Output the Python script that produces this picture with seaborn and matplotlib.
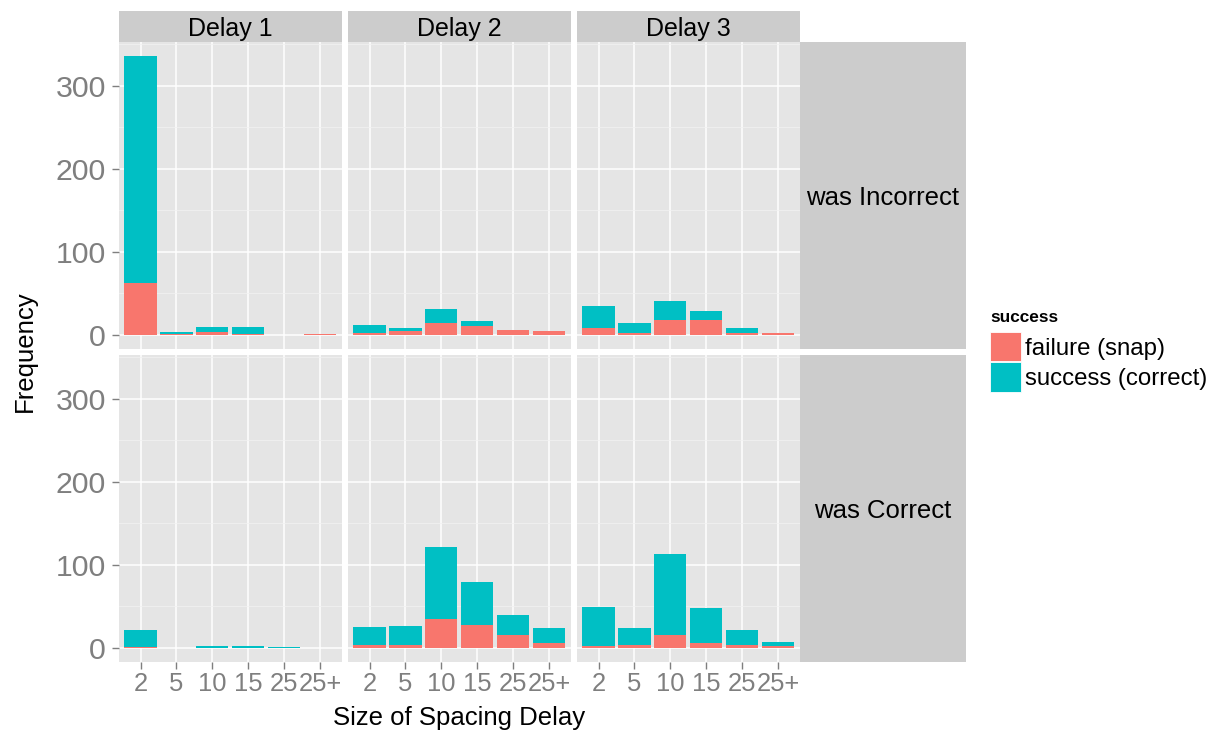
import numpy as np
import pandas as pd
import seaborn as sns
import matplotlib
matplotlib.use("Agg")
import matplotlib.pyplot as plt
from matplotlib.patches import Patch
from matplotlib.ticker import FixedLocator, MultipleLocator

# ---- data -------------------------------------------------------------
spacing_sizes = ["2", "5", "10", "15", "25", "25+"]
delay_levels = ["Delay 1", "Delay 2", "Delay 3"]
prior_levels = ["was Incorrect", "was Correct"]
outcome_levels = ["failure (snap)", "success (correct)"]

# counts per spacing size, one list per (previous answer, delay) panel
failure_incorrect_d1 = [62, 1, 3, 1, 0, 1]
success_incorrect_d1 = [274, 2, 6, 8, 0, 0]
failure_incorrect_d2 = [2, 4, 14, 10, 6, 4]
success_incorrect_d2 = [9, 4, 17, 6, 0, 0]
failure_incorrect_d3 = [8, 2, 18, 17, 2, 2]
success_incorrect_d3 = [27, 12, 23, 12, 6, 0]

failure_correct_d1 = [1, 0, 0, 0, 0, 0]
success_correct_d1 = [20, 0, 2, 2, 1, 0]
failure_correct_d2 = [3, 3, 34, 27, 15, 6]
success_correct_d2 = [22, 23, 87, 52, 24, 18]
failure_correct_d3 = [2, 3, 15, 6, 3, 2]
success_correct_d3 = [47, 21, 98, 42, 18, 5]

y_ticks = [0, 100, 200, 300]

panel_counts = {
    ("was Incorrect", "Delay 1"): (failure_incorrect_d1, success_incorrect_d1),
    ("was Incorrect", "Delay 2"): (failure_incorrect_d2, success_incorrect_d2),
    ("was Incorrect", "Delay 3"): (failure_incorrect_d3, success_incorrect_d3),
    ("was Correct", "Delay 1"): (failure_correct_d1, success_correct_d1),
    ("was Correct", "Delay 2"): (failure_correct_d2, success_correct_d2),
    ("was Correct", "Delay 3"): (failure_correct_d3, success_correct_d3),
}

rows = []
for (prior, delay), (fail, succ) in panel_counts.items():
    for size, f, s in zip(spacing_sizes, fail, succ):
        rows.append(dict(prior=prior, delay=delay, size=size,
                         failure=f, success=s, total=f + s))
df = pd.DataFrame(rows)

# ---- style ------------------------------------------------------------
plt.rcParams["font.family"] = ["Liberation Sans", "DejaVu Sans"]

RED = "#F8766D"
CYAN = "#00BFC4"
PANEL_BG = "#E5E5E5"
STRIP_BG = "#CCCCCC"
AXIS_GREY = "#7F7F7F"

W, H = 1211, 730
fig = plt.figure(figsize=(W / 100, H / 100), dpi=100)


def rect(left, top, width, height):
    return [left / W, 1 - (top + height) / H, width / W, height / H]


col_left = [119, 348, 577]
panel_w = 222.5
row_top = [42, 355]
panel_h = 306.5

ymin, ymax = -16.8, 352.8

for r, prior in enumerate(prior_levels):
    for c, delay in enumerate(delay_levels):
        ax = fig.add_axes(rect(col_left[c], row_top[r], panel_w, panel_h))
        sub = df[(df["prior"] == prior) & (df["delay"] == delay)]
        # stacked bars: full height in success colour, failure part over it
        sns.barplot(data=sub, x="size", y="total", order=spacing_sizes,
                    color=CYAN, saturation=1, width=0.9, errorbar=None,
                    linewidth=0, ax=ax)
        sns.barplot(data=sub, x="size", y="failure", order=spacing_sizes,
                    color=RED, saturation=1, width=0.9, errorbar=None,
                    linewidth=0, ax=ax)
        ax.set_xlabel("")
        ax.set_ylabel("")
        ax.set_facecolor(PANEL_BG)
        for sp in ax.spines.values():
            sp.set_visible(False)
        ax.set_xlim(-0.6, len(spacing_sizes) - 0.4)
        ax.set_ylim(ymin, ymax)
        ax.yaxis.set_major_locator(FixedLocator(y_ticks))
        ax.yaxis.set_minor_locator(MultipleLocator(50))
        ax.set_axisbelow(True)
        ax.grid(True, which="major", axis="both", color="white", linewidth=1.1)
        ax.grid(True, which="minor", axis="y", color="#F2F2F2", linewidth=0.55)
        ax.tick_params(axis="both", which="major", length=4.8, width=1.0,
                       color=AXIS_GREY, labelcolor=AXIS_GREY)
        ax.tick_params(axis="y", which="minor", length=0)
        ax.tick_params(axis="y", labelsize=21.8, pad=4.5)
        ax.tick_params(axis="x", labelsize=18.4, pad=2.5)
        if c > 0:
            ax.tick_params(axis="y", left=False, labelleft=False)
        if r == 0:
            ax.tick_params(axis="x", bottom=False, labelbottom=False)

# column strips
for c, delay in enumerate(delay_levels):
    sax = fig.add_axes(rect(col_left[c], 11, panel_w, 30.5))
    sax.set_facecolor(STRIP_BG)
    sax.set_xticks([])
    sax.set_yticks([])
    for sp in sax.spines.values():
        sp.set_visible(False)
    sax.text(0.5, 0.5, delay, ha="center", va="center_baseline", fontsize=18,
             color="black", transform=sax.transAxes)

# row strips
for r, prior in enumerate(prior_levels):
    sax = fig.add_axes(rect(800, row_top[r], 166, panel_h))
    sax.set_facecolor(STRIP_BG)
    sax.set_xticks([])
    sax.set_yticks([])
    for sp in sax.spines.values():
        sp.set_visible(False)
    sax.text(0.5, 0.5, prior, ha="center", va="center_baseline",
             fontsize=18.5, color="black", transform=sax.transAxes)

# axis titles
fig.text(459 / W, 1 - 718 / H, "Size of Spacing Delay", ha="center",
         va="center", fontsize=18.5)
fig.text(25 / W, 1 - 351 / H, "Frequency", ha="center", va="center",
         rotation=90, fontsize=18.5)

# legend
fig.text(990 / W, 1 - 318 / H, "success", ha="left", va="center",
         fontsize=12.4, fontweight="bold")
handles = [Patch(facecolor=RED, edgecolor="white", linewidth=0.6),
           Patch(facecolor=CYAN, edgecolor="white", linewidth=0.6)]
fig.legend(handles, outcome_levels,
           loc="upper left", bbox_to_anchor=(989.5 / W, 1 - 332 / H),
           frameon=False, fontsize=17.3,
           handlelength=1.32, handleheight=1.5, handletextpad=0.15,
           labelspacing=0.04, borderpad=0, borderaxespad=0)

fig.savefig("out.png", dpi=100)
